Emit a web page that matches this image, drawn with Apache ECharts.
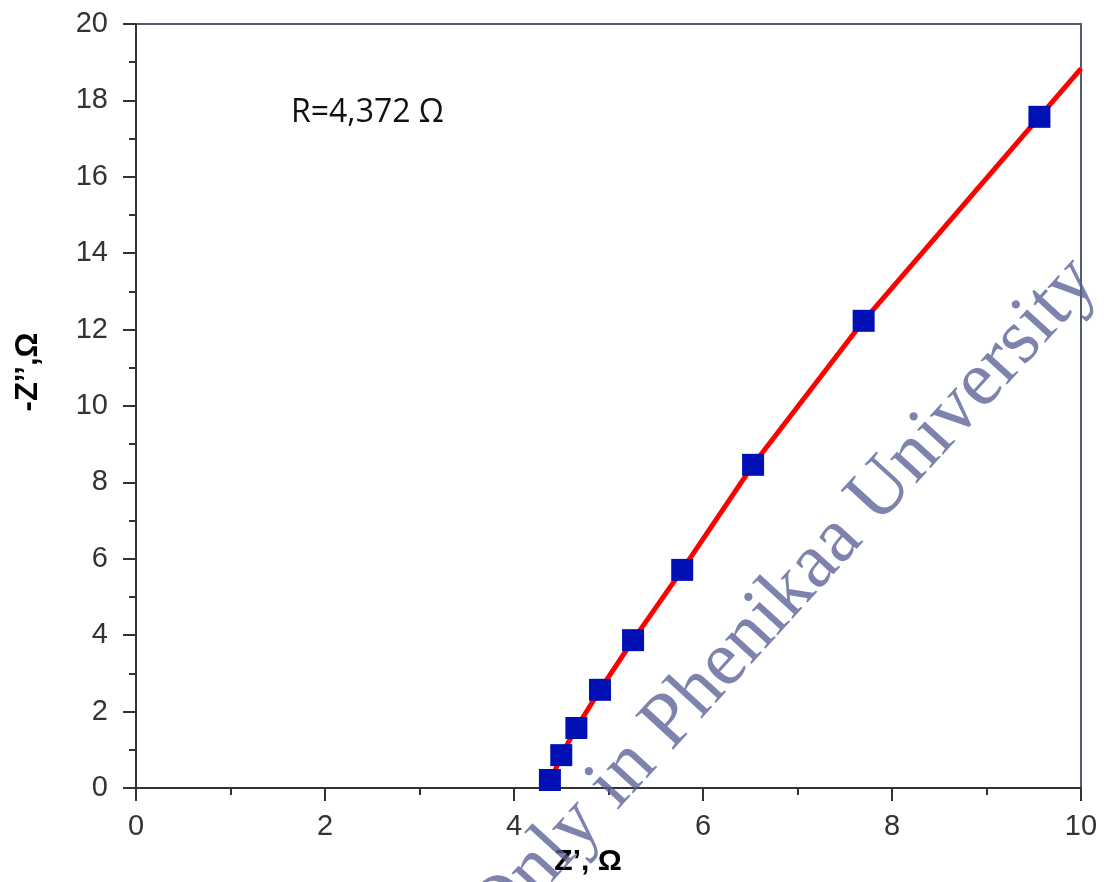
<!DOCTYPE html>
<html>
<head>
<meta charset="utf-8">
<script src="https://cdn.jsdelivr.net/npm/echarts@6/dist/echarts.min.js"></script>
<style>
  html, body { margin: 0; padding: 0; background: #fff; }
  #main { width: 1108px; height: 882px; }
</style>
</head>
<body>
<div id="main"></div>
<script>
// measured points (Z', -Z'')
const zReal = [4.38, 4.50, 4.66, 4.91, 5.26, 5.78, 6.53, 7.70, 9.56];
const zImag = [0.21, 0.86, 1.57, 2.57, 3.87, 5.71, 8.46, 12.23, 17.57];

// red fitted line, runs on to the right edge
const fitReal = [4.36, 4.50, 4.66, 4.91, 5.26, 5.78, 6.53, 7.70, 9.56, 10.0];
const fitImag = [0.0, 0.86, 1.57, 2.57, 3.87, 5.71, 8.46, 12.23, 17.57, 18.83];

const xTicks = [0, 2, 4, 6, 8, 10];
const yTicks = [0, 2, 4, 6, 8, 10, 12, 14, 16, 18, 20];

const rLabel = 'R=4,372 Ω';
const watermark = 'Only in Phenikaa University';

let points = zReal.map((x, i) => [x, zImag[i]]);
let fit = fitReal.map((x, i) => [x, fitImag[i]]);

let chart = echarts.init(document.getElementById('main'));

const labelStyle = {
    fontFamily: 'Liberation Sans',
    fontSize: 29,
    color: '#333'
};

chart.setOption({
    animation: false,
    backgroundColor: '#fff',
    grid: {left: 136, right: 27, top: 24, bottom: 94, show: true,
           borderColor: '#4f5b6e', borderWidth: 2},
    xAxis: {
        type: 'value',
        min: xTicks[0], max: xTicks[xTicks.length - 1], interval: 2,
        axisLine: {onZero: false, lineStyle: {color: '#333', width: 2}},
        axisTick: {show: true, inside: false, length: 13, lineStyle: {color: '#333', width: 2}},
        minorTick: {show: true, splitNumber: 2, length: 7, lineStyle: {color: '#333', width: 2}},
        splitLine: {show: false},
        axisLabel: Object.assign({margin: 24}, labelStyle)
    },
    yAxis: {
        type: 'value',
        min: yTicks[0], max: yTicks[yTicks.length - 1], interval: 2,
        axisLine: {show: true, onZero: false, lineStyle: {color: '#333', width: 2}},
        axisTick: {show: true, inside: false, length: 13, lineStyle: {color: '#333', width: 2}},
        minorTick: {show: true, splitNumber: 2, length: 7, lineStyle: {color: '#333', width: 2}},
        splitLine: {show: false},
        axisLabel: Object.assign({margin: 28}, labelStyle)
    },
    series: [
        {
            name: 'fit',
            type: 'line',
            data: fit,
            showSymbol: false,
            lineStyle: {color: '#ff0000', width: 5},
            z: 2
        },
        {
            name: 'data',
            type: 'scatter',
            data: points,
            symbol: 'rect',
            symbolSize: 22,
            itemStyle: {color: '#0010b4', opacity: 1},
            z: 3
        }
    ],
    graphic: [
        {
            type: 'text', left: 291, top: 97,
            style: {text: rLabel, fontFamily: 'Open Sans', fontSize: 32, fill: '#111'}
        },
        {
            type: 'text', x: 588, y: 862,
            style: {text: 'Z’, Ω', fontFamily: 'Liberation Sans', fontWeight: 'bold',
                    fontSize: 30, fill: '#000', align: 'center', verticalAlign: 'middle'}
        },
        {
            type: 'text', x: 28, y: 372, rotation: Math.PI / 2,
            style: {text: '-Z’’,Ω', fontFamily: 'Liberation Sans', fontWeight: 'bold',
                    fontSize: 31, fill: '#000', align: 'center', verticalAlign: 'middle'}
        },
        {
            type: 'text', x: 784, y: 598, rotation: 0.83, z: 100,
            style: {text: watermark, fontFamily: 'Liberation Serif', fontSize: 78,
                    fill: 'rgba(88, 96, 150, 0.78)', align: 'center', verticalAlign: 'middle'}
        }
    ]
});
</script>
</body>
</html>
